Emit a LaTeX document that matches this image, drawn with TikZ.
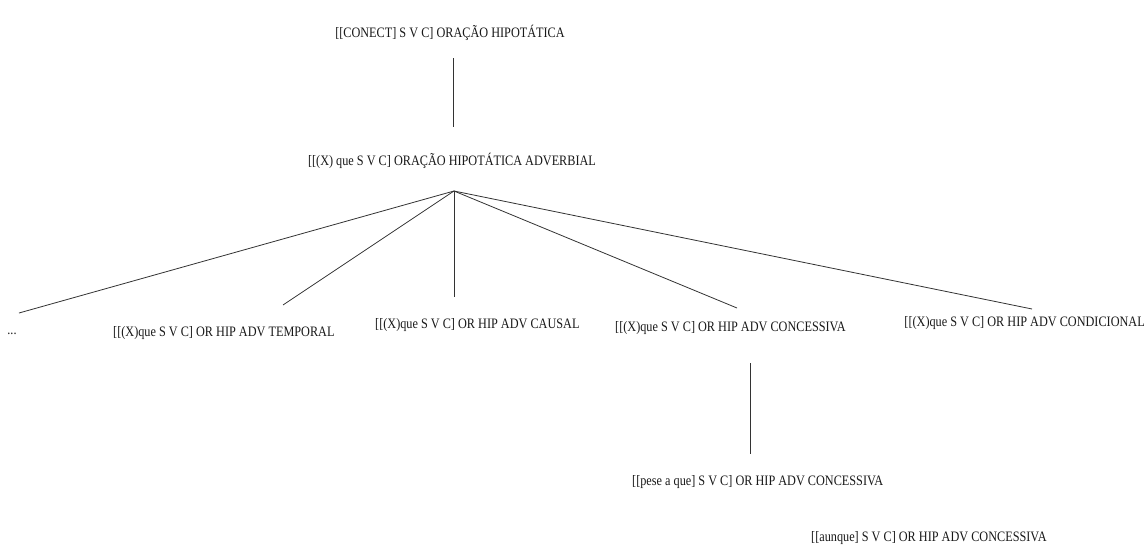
\documentclass[tikz,border=0pt]{standalone}
\usepackage{fontspec}
\setmainfont{Liberation Serif}[FakeStretch=0.85]
\begin{document}
\begin{tikzpicture}[x=1pt,y=-1pt,
  lbl/.style={inner sep=0pt,text=black!90,font=\fontsize{14.4}{16}\selectfont},
  link/.style={draw=black!80,line width=0.8pt}]
\useasboundingbox[fill=white] (0,0) rectangle (1147,554);
% nodes
\node[lbl] (top) at (450,33) {[[CONECT] S V C] ORAÇÃO HIPOTÁTICA};
\node[lbl] (mid) at (452,161) {[[(X) que S V C] ORAÇÃO HIPOTÁTICA ADVERBIAL};
\node[lbl] (dots) at (12,334) {...};
\node[lbl,anchor=west] (temp) at (113,333) {[[(X)que S V C] OR HIP ADV TEMPORAL};
\node[lbl,anchor=west] (caus) at (375,325) {[[(X)que S V C] OR HIP ADV CAUSAL};
\node[lbl,anchor=west] (conc) at (615,328) {[[(X)que S V C] OR HIP ADV CONCESSIVA};
\node[lbl,anchor=east] (cond) at (1145,323) {[[(X)que S V C] OR HIP ADV CONDICIONAL};
\node[lbl,anchor=west] (pese) at (632,482) {[[pese a que] S V C] OR HIP ADV CONCESSIVA};
\node[lbl,anchor=west] (aunq) at (811,538) {[[aunque] S V C] OR HIP ADV CONCESSIVA};
% connector ends
\coordinate (top-out) at (453,58);
\coordinate (mid-in) at (453,127);
\coordinate (mid-out) at (454,191);
\coordinate (dots-in) at (19,313);
\coordinate (temp-in) at (283,305);
\coordinate (caus-in) at (454,297);
\coordinate (conc-in) at (737,308);
\coordinate (cond-in) at (1032,309);
\coordinate (conc-out) at (750,363);
\coordinate (pese-in) at (750,454);
% connectors
\draw[link] (top-out) -- (mid-in);
\draw[link] (mid-out) -- (dots-in);
\draw[link] (mid-out) -- (temp-in);
\draw[link] (mid-out) -- (caus-in);
\draw[link] (mid-out) -- (conc-in);
\draw[link] (mid-out) -- (cond-in);
\draw[link] (conc-out) -- (pese-in);
\end{tikzpicture}
\end{document}
